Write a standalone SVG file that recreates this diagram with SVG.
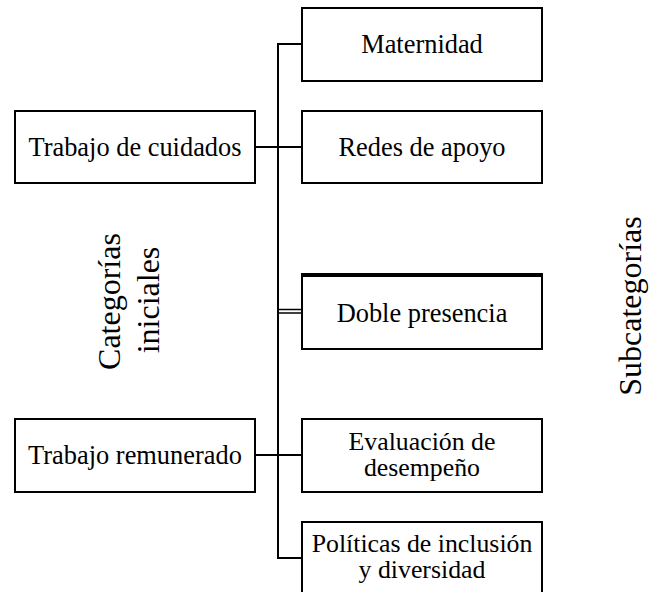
<svg xmlns="http://www.w3.org/2000/svg" width="649" height="592" viewBox="0 0 649 592">
<style>
.box{fill:#fff;stroke:#000;stroke-width:2}
.ln{stroke:#000;stroke-width:2;fill:none}
text{font-family:"Liberation Serif","Times New Roman","DejaVu Serif",serif;fill:#000;text-anchor:middle}
.t{font-size:26.4px}
.t2{font-size:25.8px}
.lab{font-size:32px}
</style>
<rect width="649" height="592" fill="#fff"/>
<g id="connectors">
<line class="ln" x1="278" y1="43" x2="278" y2="559"/>
<line class="ln" x1="277" y1="44" x2="303" y2="44"/>
<line class="ln" x1="255" y1="147" x2="303" y2="147"/>
<line x1="278" y1="309.5" x2="303" y2="309.5" stroke="#000" stroke-width="1.5"/>
<line x1="278" y1="313" x2="303" y2="313" stroke="#000" stroke-width="1.5"/>
<line class="ln" x1="255" y1="455" x2="303" y2="455"/>
<line class="ln" x1="277" y1="558" x2="303" y2="558"/>
</g>
<g id="trabajo-cuidados">
<rect class="box" x="15" y="111" width="240" height="72"/>
<text class="t" x="135" y="156">Trabajo de cuidados</text>
</g>
<g id="trabajo-remunerado">
<rect class="box" x="15" y="419" width="240" height="73"/>
<text class="t" x="135" y="464">Trabajo remunerado</text>
</g>
<g id="maternidad">
<rect class="box" x="302" y="8" width="240" height="73"/>
<text class="t" x="422" y="53">Maternidad</text>
</g>
<g id="redes-apoyo">
<rect class="box" x="302" y="111" width="240" height="72"/>
<text class="t" x="422" y="156">Redes de apoyo</text>
</g>
<g id="doble-presencia">
<rect class="box" x="302" y="274" width="240" height="75"/>
<line x1="301" y1="275" x2="543" y2="275" stroke="#000" stroke-width="4"/>
<text class="t" x="422" y="322">Doble presencia</text>
</g>
<g id="evaluacion">
<rect class="box" x="302" y="419" width="240" height="73"/>
<text class="t2" x="422" y="449.5">Evaluación de</text>
<text class="t2" x="422" y="476">desempeño</text>
</g>
<g id="politicas">
<rect class="box" x="302" y="522" width="240" height="80"/>
<text class="t2" x="422" y="551.5">Políticas de inclusión</text>
<text class="t2" x="422" y="578">y diversidad</text>
</g>
<g id="categorias-iniciales">
<text class="lab" transform="translate(120,301.5) rotate(-90)">Categorías</text>
<text class="lab" transform="translate(159,300) rotate(-90)">iniciales</text>
</g>
<g id="subcategorias">
<text class="lab" transform="translate(641,306) rotate(-90)">Subcategorías</text>
</g>
</svg>
